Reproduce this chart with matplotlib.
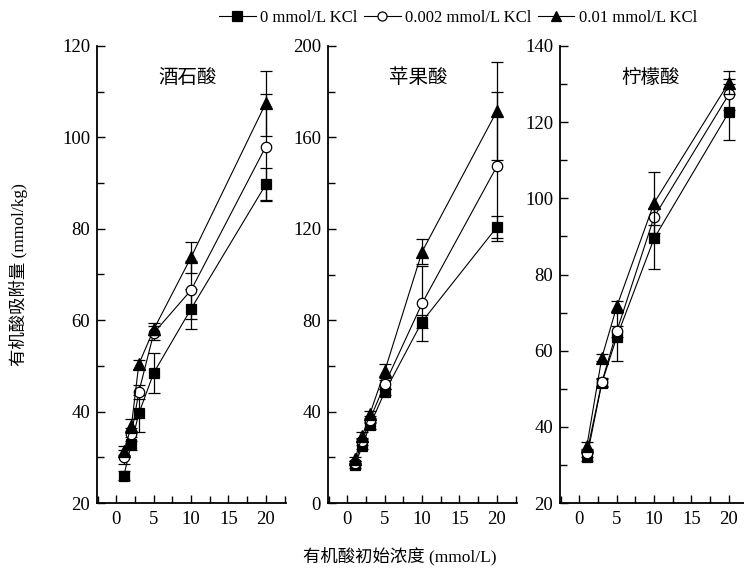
import matplotlib
matplotlib.use("Agg")
import matplotlib.pyplot as plt
from matplotlib.ticker import MultipleLocator
from matplotlib.lines import Line2D

plt.rcParams['font.family'] = ['Liberation Serif', 'Noto Sans CJK SC']

# ---------------- data ----------------
series_labels = ['0 mmol/L KCl', '0.002 mmol/L KCl', '0.01 mmol/L KCl']

titles = ['酒石酸', '苹果酸', '柠檬酸']

x_tart = [1, 2, 3, 5, 10, 20]
tart_0 = [26.0, 33.0, 39.6, 48.5, 62.5, 89.7]
tart_0_err = [1.0, 1.5, 4.0, 4.4, 4.4, 3.7]
tart_1 = [30.0, 35.0, 44.3, 57.2, 66.6, 98.0]
tart_1_err = [1.5, 1.5, 1.5, 1.5, 6.3, 11.6]
tart_2 = [31.4, 36.8, 50.4, 58.0, 73.8, 107.5]
tart_2_err = [1.0, 1.5, 1.0, 1.3, 3.4, 7.1]

x_mal = [1, 2, 3, 5, 10, 20]
mal_0 = [16.5, 25.0, 34.0, 48.6, 79.4, 120.7]
mal_0_err = [1.0, 1.5, 1.5, 1.5, 3.0, 4.8]
mal_1 = [17.5, 27.0, 36.5, 52.0, 87.4, 147.3]
mal_1_err = [1.0, 1.5, 1.5, 2.0, 16.5, 32.5]
mal_2 = [19.2, 29.4, 38.9, 57.8, 110.0, 171.5]
mal_2_err = [1.0, 1.5, 1.5, 3.0, 5.5, 21.4]

x_cit = [1, 3, 5, 10, 20]
cit_0 = [32.0, 51.5, 63.6, 89.5, 122.6]
cit_0_err = [1.0, 1.0, 6.2, 8.0, 7.3]
cit_1 = [33.2, 51.7, 65.1, 95.1, 127.3]
cit_1_err = [1.0, 1.0, 1.5, 2.0, 4.0]
cit_2 = [35.0, 58.2, 71.6, 98.8, 130.4]
cit_2_err = [1.0, 1.0, 1.5, 8.0, 3.0]

x_ticks = [0, 5, 10, 15, 20]

panels = [
    (x_tart, [tart_0, tart_1, tart_2], [tart_0_err, tart_1_err, tart_2_err], (20, 120), 20, 10),
    (x_mal, [mal_0, mal_1, mal_2], [mal_0_err, mal_1_err, mal_2_err], (0, 200), 40, 20),
    (x_cit, [cit_0, cit_1, cit_2], [cit_0_err, cit_1_err, cit_2_err], (20, 140), 20, 10),
]

markers = ['s', 'o', '^']
msizes = [7, 7.5, 8]
facecolors = ['black', 'white', 'black']

W, H = 744, 575
fig = plt.figure(figsize=(W / 100, H / 100), dpi=100)

lefts = [97, 328, 560]
ax_w = 189
top, bottom = 46, 503

for i, (xs, ys, errs, ylim, ymaj, ymin) in enumerate(panels):
    ax = fig.add_axes([lefts[i] / W, (H - bottom) / H, ax_w / W, (bottom - top) / H])
    for j in range(3):
        ax.errorbar(xs, ys[j], yerr=errs[j], fmt='-', color='black', lw=0.8,
                    elinewidth=0.9, capsize=4, capthick=0.9,
                    marker=markers[j], markersize=msizes[j],
                    markerfacecolor=facecolors[j], markeredgecolor='black',
                    markeredgewidth=0.9, zorder=3 + j)
    ax.set_xlim(-2.6, 22.7)
    ax.set_ylim(*ylim)
    ax.set_xticks(x_ticks)
    ax.xaxis.set_minor_locator(MultipleLocator(2.5))
    ax.yaxis.set_major_locator(MultipleLocator(ymaj))
    ax.yaxis.set_minor_locator(MultipleLocator(ymin))
    ax.spines['top'].set_visible(False)
    ax.spines['right'].set_visible(False)
    for s in ['left', 'bottom']:
        ax.spines[s].set_linewidth(1.3)
    ax.tick_params(which='both', direction='in', labelsize=13.5, width=1.0)
    ax.tick_params(which='major', length=6)
    ax.tick_params(which='minor', length=5)
    ax.tick_params(axis='y', pad=5)
    ax.tick_params(axis='x', pad=6)
    ax.text(0.48, 0.93, titles[i], transform=ax.transAxes, ha='center', va='center',
            fontsize=14)

handles = [Line2D([0], [0], color='black', lw=0.8, marker=markers[j], markersize=6.5,
                  markerfacecolor=facecolors[j], markeredgecolor='black', markeredgewidth=0.9)
           for j in range(3)]
fig.legend(handles, series_labels, loc='center', bbox_to_anchor=(458 / W, 1 - 18 / H),
           ncol=3, frameon=False, fontsize=12, handlelength=2.2, handletextpad=0.25,
           columnspacing=0.4)

fig.text(18 / W, 1 - 275 / H, '有机酸吸附量 (mmol/kg)', rotation=90, ha='center', va='center',
         fontsize=12.5)
fig.text(400 / W, 1 - 556 / H, '有机酸初始浓度 (mmol/L)', ha='center', va='center',
         fontsize=12.5)

fig.savefig('out.png', dpi=100)
